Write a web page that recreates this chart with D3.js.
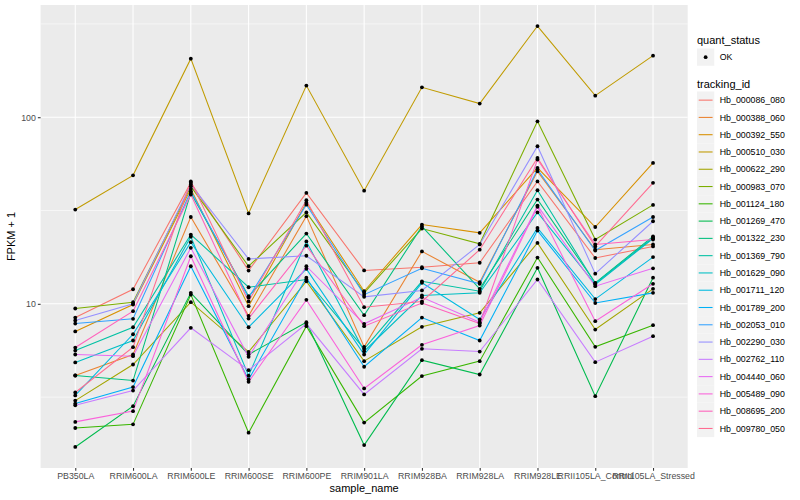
<!DOCTYPE html>
<html><head><meta charset="utf-8">
<script src="https://cdn.jsdelivr.net/npm/d3@7"></script>
<style>
body{margin:0;background:#fff;}
text{font-family:"Liberation Sans",Arial,Helvetica,sans-serif;}
</style></head>
<body><svg id="c" width="800" height="500"></svg>
<script>
const samples = ["PB350LA","RRIM600LA","RRIM600LE","RRIM600SE","RRIM600PE","RRIM901LA","RRIM928BA","RRIM928LA","RRIM928LE","RRII105LA_Control","RRII105LA_Stressed"];
const trackingIds = ["Hb_000086_080","Hb_000388_060","Hb_000392_550","Hb_000510_030","Hb_000622_290","Hb_000983_070","Hb_001124_180","Hb_001269_470","Hb_001322_230","Hb_001369_790","Hb_001629_090","Hb_001711_120","Hb_001789_200","Hb_002053_010","Hb_002290_030","Hb_002762_110","Hb_004440_060","Hb_005489_090","Hb_008695_200","Hb_009780_050"];
const colors = ["#F8766D","#EA8331","#D89000","#C09B00","#A3A500","#7CAE00","#39B600","#00BB4E","#00BF7D","#00C1A3","#00BFC4","#00BAE0","#00B0F6","#35A2FF","#9590FF","#C77CFF","#E76BF3","#FA62DB","#FF62BC","#FF6C91"];
const yTicks = [10, 100];
const yTickLabels = ["10", "100"];
const quantStatus = ["OK"];

// FPKM + 1 per sample
const hb_000086_080 = [8.44,11.97,44.6,15.08,39.3,15.1,15.7,16.6,45.3,17.6,20.3];
const hb_000388_060 = [4.13,5.35,29.2,8.62,29.5,5.88,19.1,13.05,51.3,19.5,20.8];
const hb_000392_550 = [7.11,9.91,41.3,9.71,34.8,11.68,26.6,24.0,53.5,25.8,56.9];
const hb_000510_030 = [32.0,48.8,206,30.5,147.7,40.4,144.6,118.3,308,130.5,213.8];
const hb_000622_290 = [3.03,4.73,10.2,5.53,13.2,4.93,7.53,8.95,21.2,7.28,12.03];
const hb_000983_070 = [9.44,10.2,42.6,15.9,30.9,11.45,25.3,20.96,95.1,22.1,33.9];
const hb_001124_180 = [2.16,2.26,11.2,2.04,7.59,2.31,4.10,4.93,17.7,5.88,7.68];
const hb_001269_470 = [1.71,2.83,11.45,5.35,7.97,1.75,4.99,4.18,15.6,3.20,13.8];
const hb_001322_230 = [4.13,3.88,39.3,10.98,23.8,8.69,26.0,12.03,36.2,12.96,23.0];
const hb_001369_790 = [5.62,7.49,23.5,12.27,13.5,5.74,13.2,11.68,40.6,12.85,22.6];
const hb_001629_090 = [4.85,6.36,22.9,4.12,21.6,5.57,11.08,11.45,30.9,12.69,22.4];
const hb_001711_120 = [3.23,6.87,21.4,7.49,15.4,5.35,12.96,8.24,25.5,10.6,17.8];
const hb_001789_200 = [2.92,3.58,15.9,3.93,13.8,4.60,8.44,6.36,24.7,10.1,11.45];
const hb_002053_010 = [7.84,8.31,40.1,10.8,34.0,11.2,15.5,12.8,52.4,19.3,29.2];
const hb_002290_030 = [8.14,10.0,43.6,17.4,18.1,10.9,11.8,20.8,69.9,14.5,27.7];
const hb_002762_110 = [2.86,3.43,7.44,4.41,7.81,3.27,5.74,5.55,13.5,4.87,6.71];
const hb_004440_060 = [5.35,5.24,19.95,5.20,15.9,7.81,10.85,7.97,33.6,12.43,15.5];
const hb_005489_090 = [2.33,2.66,17.99,3.82,10.5,3.52,6.03,7.65,33.1,8.07,12.8];
const hb_008695_200 = [5.83,9.13,38.5,8.34,20.5,7.59,10.1,7.84,59.3,20.8,22.1];
const hb_009780_050 = [3.35,5.86,45.3,10.3,35.9,9.59,10.3,19.5,60.5,20.3,44.5];

const seriesValues = [hb_000086_080,hb_000388_060,hb_000392_550,hb_000510_030,hb_000622_290,hb_000983_070,hb_001124_180,hb_001269_470,hb_001322_230,hb_001369_790,hb_001629_090,hb_001711_120,hb_001789_200,hb_002053_010,hb_002290_030,hb_002762_110,hb_004440_060,hb_005489_090,hb_008695_200,hb_009780_050];

const svg = d3.select("#c");
const P = {l:40.6, r:687.7, t:5, b:468};

const all = seriesValues.flat();
const lmin = Math.log10(d3.min(all)), lmax = Math.log10(d3.max(all));
const ex = (lmax - lmin) * 0.05;
const y = d3.scaleLog().domain([Math.pow(10, lmin - ex), Math.pow(10, lmax + ex)]).range([P.b, P.t]);
const x = d3.scalePoint().domain(samples).range([P.l, P.r]).padding(0.6);

// panel
svg.append("rect").attr("x",P.l).attr("y",P.t).attr("width",P.r-P.l).attr("height",P.b-P.t).attr("fill","#EBEBEB");
const grid = svg.append("g");
// minor y grid (half decades)
[0.5,1.5,2.5].map(e=>Math.pow(10,e)).filter(v=>v>=y.domain()[0]&&v<=y.domain()[1]).forEach(v=>{
  grid.append("line").attr("x1",P.l).attr("x2",P.r).attr("y1",y(v)).attr("y2",y(v)).attr("stroke","#fff").attr("stroke-width",0.55);
});
yTicks.forEach(v=>{
  grid.append("line").attr("x1",P.l).attr("x2",P.r).attr("y1",y(v)).attr("y2",y(v)).attr("stroke","#fff").attr("stroke-width",1.07);
});
samples.forEach(s=>{
  grid.append("line").attr("x1",x(s)).attr("x2",x(s)).attr("y1",P.t).attr("y2",P.b).attr("stroke","#fff").attr("stroke-width",1.07);
});

// lines
const line = d3.line().x((d,i)=>x(samples[i])).y(d=>y(d));
const lg = svg.append("g");
seriesValues.forEach((vals,k)=>{
  lg.append("path").attr("d",line(vals)).attr("fill","none").attr("stroke",colors[k]).attr("stroke-width",1.07);
});
// points
const pg = svg.append("g");
seriesValues.forEach(vals=>{
  vals.forEach((v,i)=>{
    pg.append("circle").attr("cx",x(samples[i])).attr("cy",y(v)).attr("r",1.9).attr("fill","#000");
  });
});

// axes
const xa = svg.append("g").attr("transform",`translate(0,${P.b})`)
  .call(d3.axisBottom(x).tickSize(2.75).tickSizeOuter(0).tickPadding(2));
xa.select(".domain").remove();
xa.selectAll("line").attr("stroke","#333").attr("stroke-width",1.07);
xa.selectAll("text").attr("fill","#4D4D4D").style("font-size","8.8px").attr("font-family","Liberation Sans, Arial, sans-serif");

const ya = svg.append("g").attr("transform",`translate(${P.l},0)`)
  .call(d3.axisLeft(y).tickValues(yTicks).tickFormat((d,i)=>yTickLabels[i]).tickSize(2.75).tickSizeOuter(0).tickPadding(2));
ya.select(".domain").remove();
ya.selectAll("line").attr("stroke","#333").attr("stroke-width",1.07);
ya.selectAll("text").attr("fill","#4D4D4D").style("font-size","8.8px").attr("font-family","Liberation Sans, Arial, sans-serif");

svg.append("text").attr("x",(P.l+P.r)/2).attr("y",492).attr("text-anchor","middle").style("font-size","11px").attr("fill","#000").text("sample_name");
svg.append("text").attr("transform",`translate(15,${(P.t+P.b)/2}) rotate(-90)`).attr("text-anchor","middle").style("font-size","11px").attr("fill","#000").text("FPKM + 1");

// legend
const LX = 697, key = 17.28;
const leg = svg.append("g");
leg.append("text").attr("x",LX).attr("y",44).style("font-size","11px").attr("fill","#000").text("quant_status");
quantStatus.forEach((q,i)=>{
  const yy = 48.5 + i*key;
  leg.append("rect").attr("x",LX).attr("y",yy).attr("width",key).attr("height",key).attr("fill","#F2F2F2");
  leg.append("circle").attr("cx",LX+key/2).attr("cy",yy+key/2).attr("r",1.9).attr("fill","#000");
  leg.append("text").attr("x",LX+key+5.5).attr("y",yy+key/2).attr("dy","0.35em").style("font-size","8.8px").attr("fill","#000").text(q);
});
leg.append("text").attr("x",LX).attr("y",88).style("font-size","11px").attr("fill","#000").text("tracking_id");
trackingIds.forEach((t,i)=>{
  const yy = 91.5 + i*key;
  leg.append("rect").attr("x",LX).attr("y",yy).attr("width",key).attr("height",key).attr("fill","#F2F2F2");
  leg.append("line").attr("x1",LX+1.7).attr("x2",LX+key-1.7).attr("y1",yy+key/2).attr("y2",yy+key/2).attr("stroke",colors[i]).attr("stroke-width",1.07);
  leg.append("text").attr("x",LX+key+5.5).attr("y",yy+key/2).attr("dy","0.35em").style("font-size","8.8px").attr("fill","#000").text(t);
});
</script></body></html>
